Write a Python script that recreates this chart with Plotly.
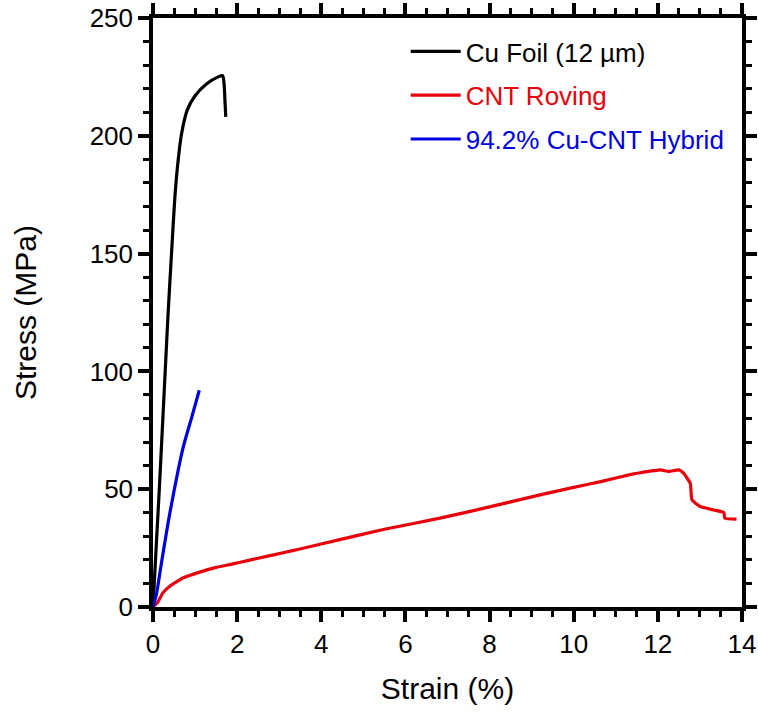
import plotly.graph_objects as go

# Cu foil (12 um)
cu_strain = [0, 0.08, 0.15, 0.22, 0.29, 0.36, 0.44, 0.52, 0.60, 0.68, 0.815, 1.0, 1.27, 1.55, 1.655, 1.69, 1.71, 1.73]
cu_stress = [0, 27, 50, 75, 100, 125, 150, 174, 190, 201, 211, 217, 222, 225, 225.5, 222, 215, 208]

# CNT roving
cnt_strain = [0, 0.03, 0.11, 0.23, 0.39, 0.71, 1.11, 1.50, 1.90, 2.30, 2.70, 3.09, 3.49, 4.44, 5.5, 6.82, 8.0,
              9.2, 10.0, 10.64, 11.42, 11.58, 12.06, 12.26, 12.5, 12.61, 12.77, 12.81, 13.01, 13.33, 13.57, 13.59, 13.87]
cnt_stress = [0, 0.6, 1.9, 5.9, 8.7, 12.3, 14.8, 16.8, 18.3, 19.9, 21.5, 23.0, 24.6, 28.6, 33.0, 37.7, 42.5,
              47.6, 50.8, 53.2, 56.5, 57.0, 58.2, 57.5, 58.2, 56.8, 52.5, 45.5, 42.6, 41.2, 40.1, 37.7, 37.3]

# 94.2% Cu-CNT hybrid
hyb_strain = [0, 0.04, 0.088, 0.2, 0.4, 0.72, 0.92, 1.10]
hyb_stress = [0, 2.5, 6.0, 18.6, 39.8, 68.0, 80.5, 92.0]

x_ticks = [0, 2, 4, 6, 8, 10, 12, 14]
y_ticks = [0, 50, 100, 150, 200, 250]

FONT = "Liberation Sans, Arial, sans-serif"

fig = go.Figure()
fig.add_trace(go.Scatter(x=cu_strain, y=cu_stress, mode="lines",
                         line=dict(color="black", width=3.2, shape="spline", smoothing=0.6),
                         name='<span style="color:black">Cu Foil (12 µm)</span>',
                         legendgroup="a"))
fig.add_trace(go.Scatter(x=cnt_strain, y=cnt_stress, mode="lines",
                         line=dict(color="#e8000b", width=3.2, shape="spline", smoothing=0.4),
                         name='<span style="color:#e8000b">CNT Roving</span>',
                         legendgroup="b"))
fig.add_trace(go.Scatter(x=hyb_strain, y=hyb_stress, mode="lines",
                         line=dict(color="#0000e0", width=3.2, shape="spline", smoothing=0.6),
                         name='<span style="color:#0000e0">94.2% Cu-CNT Hybrid</span>',
                         legendgroup="c"))

axis_common = dict(
    showline=True, linecolor="black", linewidth=3.5, mirror="ticks",
    ticks="outside", ticklen=11, tickwidth=3.5, tickcolor="black",
    showgrid=False, zeroline=False, automargin=False, ticklabeloverflow="allow",
    tickfont=dict(family=FONT, size=26, color="black"),
)

fig.update_xaxes(range=[0, 14], tickvals=x_ticks, ticktext=[str(v) for v in x_ticks],
                 minor=dict(dtick=0.5, ticklen=6, tickwidth=3, tickcolor="black", ticks="outside"),
                 title=dict(text="Strain (%)", font=dict(family=FONT, size=30, color="black"), standoff=21),
                 **axis_common)
fig.update_yaxes(range=[0, 250], tickvals=y_ticks, ticktext=[str(v) for v in y_ticks],
                 minor=dict(dtick=10, ticklen=6, tickwidth=3, tickcolor="black", ticks="outside"),
                 title=dict(text="Stress (MPa)", font=dict(family=FONT, size=30, color="black"), standoff=45),
                 **axis_common)

fig.update_layout(
    width=758, height=713,
    margin=dict(l=153, r=16, t=18, b=106),
    plot_bgcolor="white", paper_bgcolor="white",
    showlegend=True,
    legend=dict(x=0.429, y=0.983, xanchor="left", yanchor="top",
                bgcolor="rgba(0,0,0,0)", font=dict(family=FONT, size=26),
                tracegroupgap=7, itemwidth=50, traceorder="grouped"),
)

fig.write_html("out.html", config={"displayModeBar": False},
               post_script="document.body.style.margin='0px';document.body.style.overflow='hidden';")
